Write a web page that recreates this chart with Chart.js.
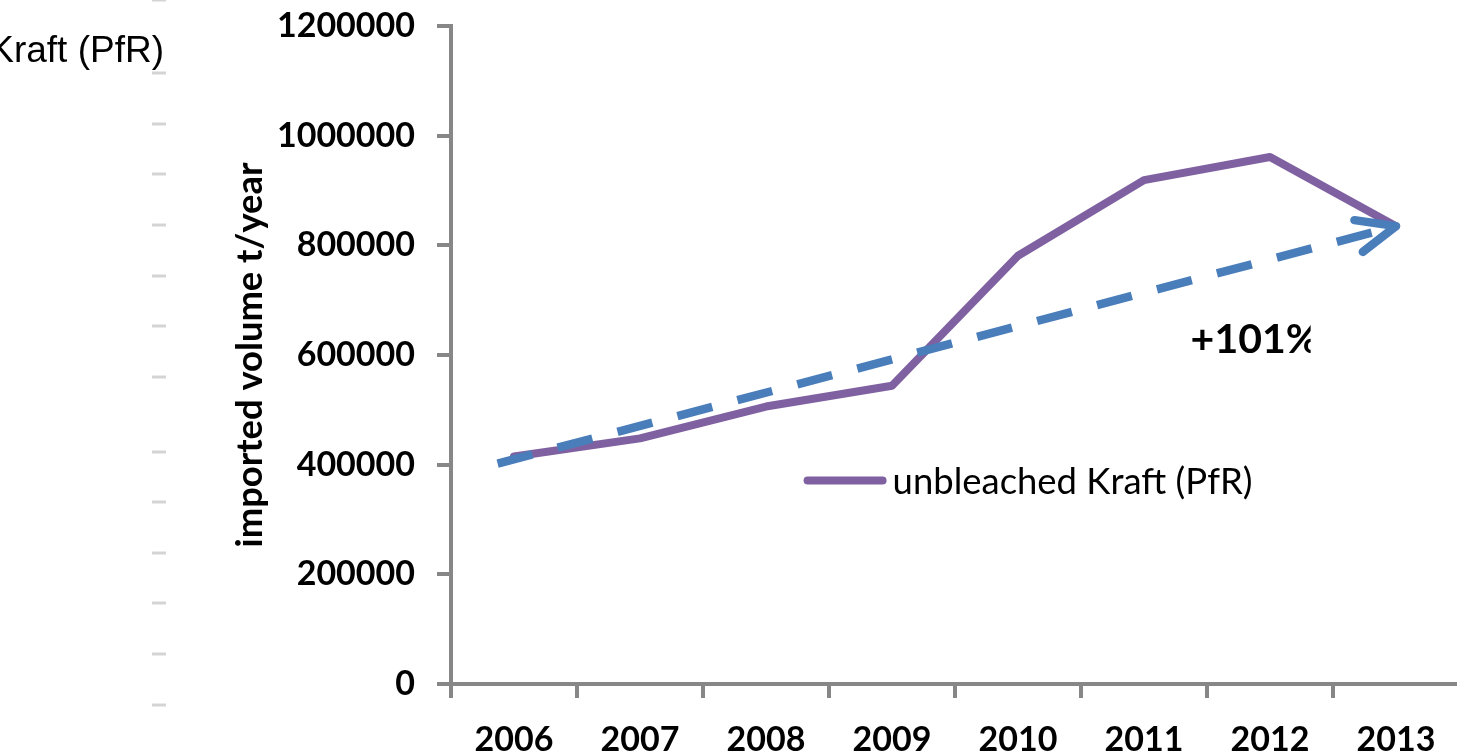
<!DOCTYPE html>
<html>
<head>
<meta charset="utf-8">
<script src="https://cdn.jsdelivr.net/npm/chart.js@4.4.1/dist/chart.umd.min.js"></script>
<style>
  html, body { margin: 0; padding: 0; background: #ffffff; overflow: hidden; }
  #wrap { position: relative; width: 1460px; height: 753px; }
</style>
</head>
<body>
<div id="wrap"><canvas id="chart" width="1460" height="753"></canvas></div>
<script>
// ---- data ----
const years = ['2006', '2007', '2008', '2009', '2010', '2011', '2012', '2013'];
const unbleachedKraft = [415000, 448000, 506000, 544000, 781000, 919000, 961000, 835000];
const yMin = 0;
const yMax = 1200000;
const yStep = 200000;
const seriesName = 'unbleached Kraft (PfR)';
const axisTitle = 'imported volume t/year';
const sideLabel = 'Kraft (PfR)';

// trend arrow starts a little before the first year, ends on the last value
const trendStart = { index: -0.13, value: 402000 };

// ---- styling ----
const PURPLE = '#7F61A1';
const BLUE = '#4A7EBB';
const AXIS_GREY = '#878787';
const LIGHT_GREY = '#D4D4D4';

// growth between first and last year, shown next to the arrow
const growthPct = Math.round((unbleachedKraft[unbleachedKraft.length - 1] / unbleachedKraft[0] - 1) * 100);
const growthText = '+' + growthPct + '%';

// fit a font size so a string spans a given width
function fitSize(text, weight, family, width) {
  const c = document.createElement('canvas').getContext('2d');
  c.font = weight + ' 100px ' + family;
  return 100 * width / c.measureText(text).width;
}
const titleSize = fitSize(axisTitle, 'bold', 'Lato', 385);
const legendSize = fitSize(seriesName, 'normal', 'Lato', 360);
const titleLH = titleSize * 1.2;

// remains of the neighbouring panel on the left edge
const sideTicks = [0, 73, 124, 174, 225, 276, 326, 377, 452, 502, 553, 603, 654, 705];

const decorPlugin = {
  id: 'decor',
  beforeDraw(chart) {
    const ctx = chart.ctx;
    ctx.save();
    ctx.strokeStyle = LIGHT_GREY;
    ctx.lineWidth = 3;
    sideTicks.forEach(y => {
      ctx.beginPath();
      ctx.moveTo(152, y);
      ctx.lineTo(166, y);
      ctx.stroke();
    });
    ctx.fillStyle = '#000000';
    ctx.font = '37px "Liberation Sans", Arial, sans-serif';
    ctx.textAlign = 'right';
    ctx.textBaseline = 'middle';
    ctx.fillText(sideLabel, 164, 52);
    ctx.restore();
  }
};

const arrowPlugin = {
  id: 'trendArrow',
  afterDatasetsDraw(chart) {
    const { ctx, scales: { x, y } } = chart;
    const last = unbleachedKraft.length - 1;
    const x0 = x.getPixelForValue(trendStart.index);
    const y0 = y.getPixelForValue(trendStart.value);
    const x1 = x.getPixelForValue(last);
    const y1 = y.getPixelForValue(unbleachedKraft[last]);
    ctx.save();
    ctx.strokeStyle = BLUE;
    ctx.lineWidth = 8.5;
    ctx.lineCap = 'butt';
    ctx.setLineDash([36, 26]);
    ctx.beginPath();
    ctx.moveTo(x0, y0);
    ctx.lineTo(x1, y1);
    ctx.stroke();
    // open arrow head
    ctx.setLineDash([]);
    ctx.lineCap = 'round';
    ctx.lineJoin = 'round';
    const back = Math.atan2(y0 - y1, x0 - x1);
    const len = 42;
    const spread = 23 * Math.PI / 180;
    ctx.beginPath();
    ctx.moveTo(x1 + len * Math.cos(back - spread), y1 + len * Math.sin(back - spread));
    ctx.lineTo(x1, y1);
    ctx.lineTo(x1 + len * Math.cos(back + spread), y1 + len * Math.sin(back + spread));
    ctx.stroke();

    // growth label, cut off at its box edge
    const lx = x.getPixelForValue(5.37);
    const ly = y.getPixelForValue(627000);
    ctx.beginPath();
    ctx.rect(lx - 5, ly - 40, 125, 80);
    ctx.clip();
    ctx.fillStyle = '#000000';
    ctx.font = 'bold 41px Lato';
    ctx.textAlign = 'left';
    ctx.textBaseline = 'middle';
    ctx.fillText(growthText, lx, ly);
    ctx.restore();
  }
};

const legendPlugin = {
  id: 'innerLegend',
  afterDraw(chart) {
    const { ctx, scales: { x, y } } = chart;
    const ds = chart.data.datasets[0];
    const sx = x.getPixelForValue(2.33);
    const sy = y.getPixelForValue(371000);
    ctx.save();
    ctx.strokeStyle = ds.borderColor;
    ctx.lineWidth = 8;
    ctx.lineCap = 'round';
    ctx.beginPath();
    ctx.moveTo(sx, sy);
    ctx.lineTo(sx + 75, sy);
    ctx.stroke();
    ctx.fillStyle = '#000000';
    ctx.font = legendSize + 'px Lato';
    ctx.textAlign = 'left';
    ctx.textBaseline = 'middle';
    ctx.fillText(ds.label, sx + 85, sy + 2);
    ctx.restore();
  }
};

new Chart(document.getElementById('chart'), {
  type: 'line',
  data: {
    labels: years,
    datasets: [{
      label: seriesName,
      data: unbleachedKraft,
      borderColor: PURPLE,
      backgroundColor: PURPLE,
      borderWidth: 8,
      borderJoinStyle: 'round',
      borderCapStyle: 'round',
      pointRadius: 0,
      pointHoverRadius: 0,
      tension: 0,
      fill: false
    }]
  },
  options: {
    responsive: false,
    animation: false,
    devicePixelRatio: 1,
    layout: { padding: { left: 0, right: 1, top: 26, bottom: 0 } },
    plugins: {
      legend: { display: false },
      tooltip: { enabled: false },
      title: { display: false }
    },
    scales: {
      x: {
        type: 'category',
        offset: true,
        grid: {
          display: true,
          offset: true,
          drawOnChartArea: false,
          drawTicks: true,
          tickLength: 14,
          color: AXIS_GREY,
          lineWidth: 4
        },
        border: { display: true, color: AXIS_GREY, width: 4 },
        ticks: {
          color: '#000000',
          font: { family: 'Lato', size: 34, weight: 'bold' },
          padding: 22,
          maxRotation: 0,
          autoSkip: false
        },
        afterFit(scale) { scale.height = 69; }
      },
      y: {
        min: yMin,
        max: yMax,
        grid: {
          display: true,
          drawOnChartArea: false,
          drawTicks: true,
          tickLength: 14,
          color: AXIS_GREY,
          lineWidth: 4
        },
        border: { display: true, color: AXIS_GREY, width: 4 },
        ticks: {
          stepSize: yStep,
          color: '#000000',
          font: { family: 'Lato', size: 34, weight: 'bold' },
          padding: 22,
          callback: v => String(v)
        },
        title: {
          display: true,
          text: axisTitle,
          color: '#000000',
          font: { family: 'Lato', size: titleSize, weight: 'bold', lineHeight: 1.2 },
          padding: { top: 250 - titleLH / 2, bottom: 0 }
        },
        afterFit(scale) {
          scale.width = 451;
          scale.paddingTop = 0;
          scale.paddingBottom = 0;
        }
      }
    }
  },
  plugins: [decorPlugin, arrowPlugin, legendPlugin]
});
</script>
</body>
</html>
